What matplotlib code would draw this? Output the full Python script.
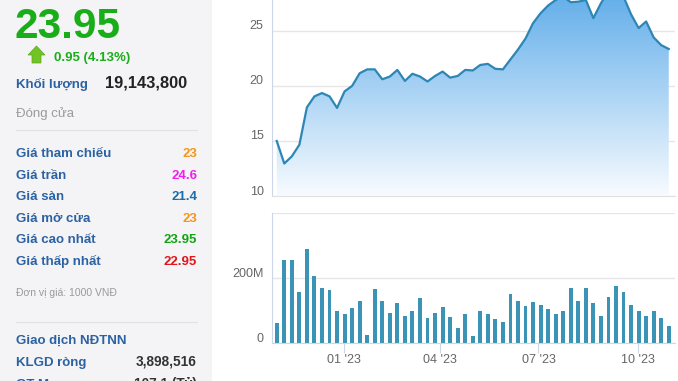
import numpy as np
import pandas as pd
import matplotlib
matplotlib.use("Agg")
import matplotlib.pyplot as plt
import matplotlib.dates as mdates
import matplotlib.transforms as mtransforms
from matplotlib.patches import Rectangle, Polygon

plt.rcParams['font.family'] = ['Liberation Sans', 'DejaVu Sans']

# weekly data, one point per week
dates = pd.date_range('2022-10-31', periods=53, freq='7D')
prices = [15.0, 12.95, 13.6, 14.65, 18.05, 19.05, 19.35, 19.05, 18.0, 19.5,
          20.0, 21.15, 21.5, 21.5, 20.6, 20.85, 21.45, 20.45, 21.1, 20.85,
          20.4, 20.9, 21.3, 20.75, 20.9, 21.45, 21.4, 21.9, 22.0, 21.55,
          21.5, 22.4, 23.3, 24.3, 25.7, 26.6, 27.3, 27.8, 28.1, 27.6,
          27.65, 27.8, 26.15, 27.5, 28.6, 28.9, 28.1, 26.5, 25.25, 25.85,
          24.4, 23.7, 23.35]
volumes_m = [62, 255, 255, 158, 290, 206, 168, 162, 97, 88,
             108, 130, 24, 165, 130, 91, 123, 84, 100, 139,
             78, 93, 110, 79, 46, 88, 23, 97, 88, 75,
             64, 151, 130, 113, 126, 117, 104, 88, 100, 168,
             130, 168, 122, 84, 142, 174, 158, 116, 97, 84,
             97, 78, 52]

price_ticks = [10, 15, 20, 25]
vol_ticks = [0, 200e6, 400e6]
vol_labels = ['0', '200M', '']
month_ticks = ['2023-01-01', '2023-04-01', '2023-07-01', '2023-10-01']

# left info panel
last_price = '23.95'
change_text = '0.95 (4.13%)'
volume_text = '19,143,800'
rows = [('Giá tham chiếu', '23', '#f5961e'),
        ('Giá trần', '24.6', '#f01ef0'),
        ('Giá sàn', '21.4', '#1b6fa6'),
        ('Giá mở cửa', '23', '#f5961e'),
        ('Giá cao nhất', '23.95', '#10a510'),
        ('Giá thấp nhất', '22.95', '#e3141b')]
foreign_rows = [('KLGD ròng', '3,898,516'), ('GT Mua', '107.1 (Tỷ)')]

W, H = 678, 381
fig = plt.figure(figsize=(W / 100, H / 100), dpi=100)


def fx(x):
    return x / W


def fy(y):
    return 1 - y / H


label_blue = '#2b62a3'
grid_c = '#e6e6e6'
axis_c = '#ccd6eb'
text_c = '#666666'

# ---- left panel ----
fig.patches.append(Rectangle((0, 0), fx(212), 1, transform=fig.transFigure,
                             facecolor='#f4f3f5', edgecolor='none', zorder=0))
fig.text(fx(14), fy(38), last_price, fontsize=30.5, fontweight='bold',
         color='#19ae19', va='baseline')
arrow = [(36.5, 46), (45, 55), (41, 55), (41, 63), (32, 63), (32, 55), (28, 55)]
fig.patches.append(Polygon([(fx(a), fy(b)) for a, b in arrow], closed=True,
                           transform=fig.transFigure, facecolor='#72c424',
                           edgecolor='#5aa81a', linewidth=0.5))
fig.text(fx(54), fy(61), change_text, fontsize=9.5, fontweight='bold',
         color='#19ae19', va='baseline')
fig.text(fx(16), fy(88), 'Khối lượng', fontsize=9.5, fontweight='bold',
         color=label_blue, va='baseline')
fig.text(fx(105), fy(88), volume_text, fontsize=11.8, fontweight='bold',
         color='#222222', va='baseline')
fig.text(fx(16), fy(117), 'Đóng cửa', fontsize=9.5, color='#9a9a9a', va='baseline')
fig.add_artist(plt.Line2D([fx(16), fx(197)], [fy(130), fy(130)], color='#e2e2e2', lw=0.8))

base = 157
for name, val, col in rows:
    fig.text(fx(16), fy(base), name, fontsize=9.5, fontweight='bold',
             color=label_blue, va='baseline')
    fig.text(fx(197), fy(base), val, fontsize=9.5, fontweight='bold',
             color=col, va='baseline', ha='right')
    base += 21.6

fig.text(fx(16), fy(296), 'Đơn vị giá: 1000 VNĐ', fontsize=7.5, color='#9a9a9a', va='baseline')
fig.add_artist(plt.Line2D([fx(16), fx(197)], [fy(322), fy(322)], color='#e2e2e2', lw=0.8))
fig.text(fx(16), fy(343.5), 'Giao dịch NĐTNN', fontsize=9.5, fontweight='bold',
         color=label_blue, va='baseline')
base = 366
for name, val in foreign_rows:
    fig.text(fx(16), fy(base), name, fontsize=9.5, fontweight='bold',
             color=label_blue, va='baseline')
    fig.text(fx(197), fy(base), val, fontsize=9.8, fontweight='bold',
             color='#333333', va='baseline', ha='right')
    base += 22

# ---- charts ----
xnum = mdates.date2num(dates)
xmin = xnum[0] - 4.4
xmax = xnum[-1] + 5.8

ax = fig.add_axes([fx(272), fy(196), fx(675) - fx(272), 196 / H])
ax.set_xlim(xmin, xmax)
ax.set_ylim(10, 27.8)

fill = ax.fill_between(xnum, prices, 10, color='none')
grad = np.linspace(1, 0, 256).reshape(-1, 1)
top_c = np.array([0.40, 0.69, 0.92])
bot_c = np.array([0.97, 0.985, 1.0])
img = top_c * grad[..., None] + bot_c * (1 - grad[..., None])
im = ax.imshow(img, extent=[xmin, xmax, 10, 27.8], aspect='auto', origin='upper', zorder=1)
path = fill.get_paths()[0]
im.set_clip_path(path, transform=ax.transData)
ax.plot(xnum, prices, color='#2e86b5', lw=1.6, zorder=3, solid_joinstyle='round')

ax.set_yticks(price_ticks)
ax.set_yticklabels([str(t) for t in price_ticks])
ax.grid(axis='y', color=grid_c, lw=1)
ax.set_axisbelow(True)
ax.set_xticks([])
for s in ['top', 'right']:
    ax.spines[s].set_visible(False)
ax.spines['left'].set_color(axis_c)
ax.spines['bottom'].set_color('#e0e0e0')
ax.tick_params(axis='y', length=0, pad=6, labelsize=9, labelcolor=text_c)
off = mtransforms.ScaledTranslation(0, 4.3 / 72, fig.dpi_scale_trans)
for lab in ax.get_yticklabels():
    lab.set_transform(lab.get_transform() + off)

ax2 = fig.add_axes([fx(272), fy(343), fx(675) - fx(272), 130 / H])
ax2.bar(xnum, [v * 1e6 for v in volumes_m], width=3.6, color='#3b93b6', zorder=2)
ax2.set_xlim(xmin, xmax)
ax2.set_ylim(0, 400e6)
ax2.set_yticks(vol_ticks)
ax2.set_yticklabels(vol_labels)
ax2.grid(axis='y', color=grid_c, lw=1)
ax2.set_axisbelow(True)
for s in ['top', 'right']:
    ax2.spines[s].set_visible(False)
ax2.spines['left'].set_color(axis_c)
ax2.spines['bottom'].set_color(axis_c)
ax2.tick_params(axis='y', length=0, pad=6, labelsize=9, labelcolor=text_c)
for lab in ax2.get_yticklabels():
    lab.set_transform(lab.get_transform() + off)
ax2.set_xticks(mdates.date2num(pd.to_datetime(month_ticks)))
ax2.xaxis.set_major_formatter(mdates.DateFormatter("%m '%y"))
ax2.tick_params(axis='x', length=7, color=axis_c, pad=1, labelsize=9, labelcolor=text_c)

fig.savefig('out.png', dpi=100)
